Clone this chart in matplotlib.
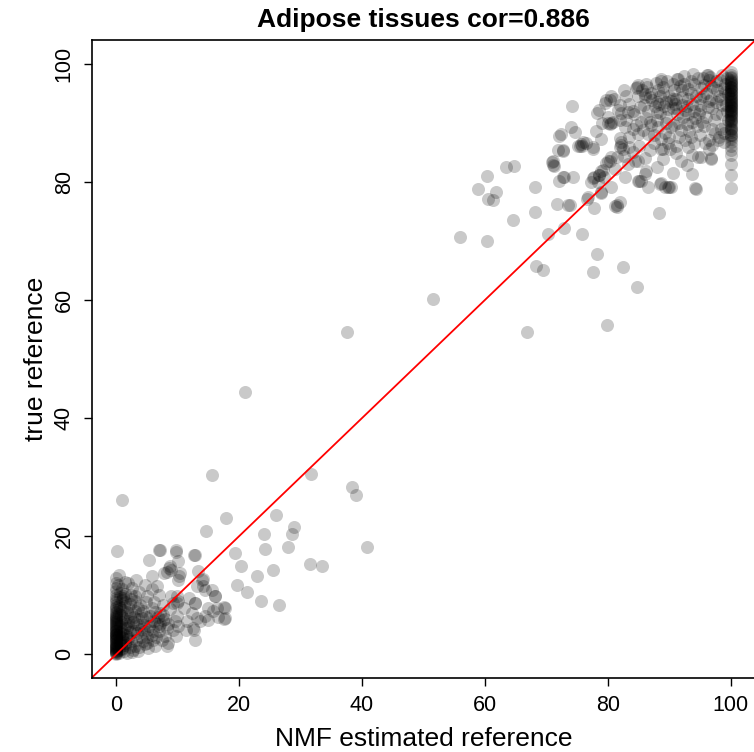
import numpy as np
import matplotlib
matplotlib.use("Agg")
import matplotlib.pyplot as plt

# scattered points away from the two dense clusters (NMF estimate, true value)
mid_points = [
    (0.9, 26.2), (0.2, 17.5), (15.6, 30.3), (21.0, 44.4), (31.7, 30.5), (37.6, 54.6),
    (38.4, 28.4), (39.0, 27.0), (40.8, 18.2), (31.5, 15.3), (33.5, 14.9), (26.0, 23.6),
    (28.9, 21.5), (28.6, 20.4), (24.1, 20.3), (24.3, 17.9), (27.9, 18.1), (17.8, 23.1),
    (14.6, 20.9), (19.3, 17.1), (20.3, 14.9), (22.9, 13.2), (25.6, 14.2), (19.7, 11.7),
    (21.3, 10.6), (23.6, 9.1), (26.5, 8.3), (17.6, 8.0), (17.6, 6.0), (51.5, 60.1),
    (66.9, 54.5), (79.8, 55.8), (84.7, 62.2), (82.5, 65.5), (77.6, 64.7), (78.2, 67.7),
    (68.3, 65.8), (69.5, 65.1), (56.0, 70.6), (60.4, 69.9), (64.6, 73.5), (68.1, 74.9),
    (70.2, 71.2), (72.8, 72.2), (75.7, 71.2), (58.8, 78.7), (60.4, 80.9), (61.8, 78.2),
    (60.5, 77.1), (61.3, 76.9), (63.4, 82.5), (64.8, 82.7), (68.2, 79.2), (71.0, 83.5),
    (71.1, 82.8), (72.7, 85.2), (71.7, 76.2), (73.9, 76.0), (88.3, 74.7),
]

low_points = [
    (6.9, 17.6), (9.7, 17.6), (12.7, 16.8), (5.3, 16.0), (8.6, 14.6), (10.1, 15.8),
    (5.8, 13.2), (7.8, 13.8), (10.2, 13.2), (13.3, 14.1), (14.2, 12.7), (16.1, 9.9),
    (8.8, 15.0), (1.2, 9.5), (2.6, 11.3), (4.7, 11.8), (6.6, 11.5), (5.8, 11.0),
    (6.9, 10.1), (3.1, 9.8), (3.9, 8.4), (9.3, 8.7), (9.9, 9.8), (12.8, 8.7),
    (13.1, 11.5), (14.5, 10.9), (15.0, 7.8), (16.4, 7.8), (13.1, 6.2), (11.5, 5.6),
    (12.6, 4.2), (12.8, 2.5), (14.5, 6.5), (9.9, 6.5), (9.3, 4.2), (7.9, 3.1),
    (8.2, 1.4), (6.3, 1.4), (4.7, 1.7), (2.8, 0.8), (6.6, 5.1), (7.2, 7.0),
    (7.2, 5.1), (9.9, 8.7), (12.8, 8.7), (17.7, 7.9), (17.7, 6.1), (16.6, 6.4),
    (15.8, 7.3), (15.0, 5.9), (13.6, 5.6), (12.3, 7.0), (12.5, 4.5), (11.4, 4.2),
    (10.1, 4.8), (9.8, 3.1), (8.5, 2.0), (7.4, 2.5), (10.1, 9.0), (9.0, 9.8),
    (8.2, 14.0), (9.0, 14.2), (10.4, 13.7), (10.1, 12.6), (7.1, 17.7), (9.8, 17.4),
    (12.8, 16.9), (13.9, 12.6), (14.2, 11.5), (15.6, 10.9), (16.1, 9.8), (1.0, 1.0),
    (1.5, 2.0), (2.0, 3.0), (1.0, 4.0), (2.0, 5.0), (3.0, 4.0), (1.5, 6.0),
    (2.5, 7.0), (3.5, 6.0), (4.0, 3.0), (3.0, 1.5), (5.0, 3.0), (4.5, 5.0),
    (5.5, 6.5), (2.0, 8.0), (1.0, 7.5), (3.0, 9.0), (4.0, 7.0), (6.0, 4.0),
    (5.0, 2.0), (1.2, 3.5), (0.8, 5.5), (2.2, 1.2), (3.3, 2.5), (4.2, 6.2),
    (6.5, 3.0), (7.0, 4.0), (5.8, 7.8), (4.8, 8.8), (2.8, 5.5), (1.8, 4.5),
    (0.6, 2.5), (1.4, 8.8), (3.6, 0.6), (5.2, 1.0), (6.8, 6.3), (8.0, 6.0),
    (8.5, 5.2), (7.7, 8.3), (5.0, 9.8), (1.0, 11.0), (2.0, 12.0), (3.2, 12.6),
    (0.5, 13.5), (1.5, 10.2), (0.7, 1.8), (0.9, 3.0), (1.3, 0.5), (0.5, 6.8),
    (0.5, 0.8), (0.8, 1.5), (1.2, 2.2), (0.6, 3.8), (1.6, 3.2), (2.4, 2.2),
    (2.6, 4.2), (3.4, 3.6), (1.9, 5.6), (2.9, 6.4), (3.8, 5.0), (4.6, 4.0),
    (5.4, 4.8), (6.2, 5.6), (0.7, 4.8), (1.1, 6.2), (1.7, 7.2), (2.3, 8.6),
    (3.6, 7.8), (4.4, 7.4), (5.6, 5.6), (6.0, 2.4), (4.4, 2.2), (3.8, 1.2),
    (2.6, 0.4), (1.8, 0.2), (0.9, 9.2), (0.6, 10.4), (1.4, 12.2), (2.4, 10.0),
    (3.8, 10.6), (6.2, 8.8), (7.6, 6.6), (8.8, 7.6), (9.6, 5.6), (11.0, 7.8),
    (11.8, 9.6), (0.4, 8.2), (1.2, 9.9), (0.3, 11.8), (0.4, 0.3), (0.9, 0.9),
    (1.4, 1.6), (0.6, 2.1), (1.1, 2.8), (1.9, 2.6), (0.5, 3.3), (1.3, 4.4),
    (2.3, 3.8), (0.8, 6.6), (1.6, 5.1), (2.2, 6.3), (0.6, 7.9), (1.3, 8.2),
    (3.2, 5.2), (4.1, 4.3), (5.1, 4.1), (5.9, 3.3), (6.9, 4.8), (7.6, 5.8),
    (3.1, 7.4), (2.5, 9.3), (0.7, 9.7), (4.9, 6.4), (6.4, 7.1), (8.3, 4.4),
]

high_points = [
    (74.2, 92.8), (78.3, 91.7), (78.5, 92.2), (79.5, 93.3), (80.5, 94.6), (80.4, 93.9),
    (82.6, 95.6), (84.8, 96.0), (86.2, 96.6), (88.7, 97.1), (91.2, 97.4), (96.1, 98.0),
    (74.0, 89.2), (74.6, 88.4), (72.4, 88.1), (71.9, 85.3), (72.7, 85.3), (75.1, 86.1),
    (75.9, 86.7), (77.6, 85.6), (78.1, 88.6), (78.9, 87.2), (80.5, 90.0), (80.3, 89.8),
    (81.9, 90.4), (82.2, 86.7), (83.5, 85.9), (72.9, 80.8), (74.3, 80.8), (77.5, 80.7),
    (78.6, 81.1), (79.2, 82.0), (80.0, 83.6), (80.5, 84.2), (82.7, 80.8), (83.2, 83.0),
    (84.9, 83.6), (86.0, 81.4), (86.5, 79.1), (88.4, 79.7), (89.8, 79.1), (90.3, 79.1),
    (94.4, 78.8), (93.6, 81.4), (92.8, 82.9), (94.7, 84.2), (96.8, 84.1), (81.4, 76.0),
    (78.9, 78.3), (76.7, 77.4), (73.5, 76.0), (76.6, 77.0), (77.8, 75.6), (78.9, 78.1),
    (80.5, 79.2), (81.1, 75.9), (81.5, 75.7), (81.9, 76.6), (77.3, 80.0), (77.8, 80.8),
    (78.6, 81.2), (79.4, 80.8), (78.4, 80.0), (78.9, 81.9), (79.7, 83.2), (80.3, 83.6),
    (75.7, 86.1), (77.6, 85.9), (82.2, 86.3), (81.9, 85.9), (84.9, 80.2), (84.4, 83.6),
    (82.6, 84.3), (81.4, 84.2), (94.2, 78.9), (89.2, 79.1), (90.0, 79.1), (88.7, 79.8),
    (85.1, 80.2), (72.1, 87.8), (75.6, 86.4), (75.4, 86.0), (76.5, 86.5), (80.0, 89.9),
    (80.8, 90.2), (81.9, 87.4), (82.4, 85.6), (82.7, 89.2), (84.1, 88.9), (84.9, 88.1),
    (84.3, 91.5), (82.2, 91.7), (81.6, 92.2), (85.7, 88.7), (79.7, 93.8), (84.6, 95.9),
    (86.1, 94.9), (84.9, 94.6), (70.9, 83.4), (71.2, 82.6), (72.1, 80.2), (72.7, 80.8),
    (81.1, 82.2), (85.4, 80.2), (86.2, 81.9), (96.3, 98.0), (91.4, 97.4), (88.7, 97.4),
    (84.9, 96.3), (86.0, 94.3), (87.6, 92.9), (85.4, 90.1), (86.5, 88.1), (88.7, 85.6),
    (89.0, 83.9), (91.9, 83.6), (93.6, 84.5), (95.2, 84.2), (96.8, 83.9), (97.9, 87.0),
    (96.5, 87.0), (93.0, 85.9), (91.9, 88.7), (90.2, 89.2), (88.1, 89.2), (87.0, 95.0),
    (88.0, 93.5), (89.0, 96.0), (90.0, 94.5), (91.0, 92.5), (92.0, 95.5), (93.0, 94.0),
    (94.0, 96.5), (95.0, 93.0), (96.0, 95.0), (97.0, 92.5), (98.0, 94.5), (99.0, 96.5),
    (97.5, 97.0), (95.5, 97.5), (93.5, 97.0), (89.5, 91.0), (91.5, 90.0), (93.0, 91.5),
    (94.5, 89.5), (96.0, 91.0), (97.0, 89.0), (98.5, 91.5), (88.0, 90.5), (90.0, 87.5),
    (92.5, 87.0), (95.0, 88.0), (98.0, 87.5), (99.0, 89.5), (99.2, 93.0), (98.8, 95.8),
    (90.5, 96.5), (86.5, 92.0), (87.5, 88.0), (89.0, 85.5), (94.0, 86.5), (96.5, 85.5),
    (92.0, 93.0), (94.0, 92.0), (95.5, 94.5), (97.5, 93.5), (91.0, 94.0), (93.5, 95.0),
    (90.5, 92.5), (88.5, 94.5), (96.8, 96.2), (98.2, 97.2), (92.8, 89.8), (89.3, 88.3),
    (85.8, 93.0), (83.5, 93.2), (84.0, 92.0), (86.8, 90.2), (83.0, 90.5), (81.0, 94.0),
    (83.0, 94.5), (85.5, 95.5), (82.0, 93.0), (80.0, 91.0), (79.0, 90.0), (83.5, 87.5),
    (85.0, 86.0), (84.0, 85.0), (86.0, 84.0), (87.5, 86.5), (88.0, 82.5), (90.5, 81.5),
    (91.0, 86.0), (89.5, 93.5), (86.4, 96.0), (87.8, 96.8), (89.6, 97.0), (90.8, 95.6),
    (92.4, 96.6), (94.6, 97.6), (96.4, 97.2), (98.6, 98.0), (99.4, 97.6), (99.5, 94.8),
    (99.3, 92.0), (99.5, 90.4), (98.4, 89.0), (97.2, 90.4), (95.6, 89.4), (94.2, 90.8),
    (92.6, 92.2), (91.2, 91.4), (89.8, 92.4), (88.4, 91.6), (87.2, 93.8), (88.2, 95.6),
    (90.2, 93.6), (92.0, 94.4), (93.6, 93.2), (95.2, 95.8), (96.8, 94.0), (97.8, 95.6),
    (98.6, 93.0), (96.2, 92.6), (94.8, 91.4), (93.2, 88.6), (91.6, 87.6), (89.8, 86.6),
    (88.6, 87.2), (87.0, 89.6), (95.8, 86.6), (97.4, 88.2), (98.8, 86.8), (91.0, 84.8),
    (86.8, 85.4), (84.6, 89.6), (83.2, 91.8), (85.2, 92.6), (86.2, 90.8), (88.9, 95.1),
    (90.6, 94.0), (91.8, 96.2), (93.1, 95.7), (94.4, 94.6), (95.7, 96.4), (97.1, 96.0),
    (98.4, 94.0), (99.1, 95.2), (97.6, 91.4), (96.4, 93.6), (95.0, 92.2), (93.7, 90.2),
    (92.2, 91.0), (90.8, 89.6), (89.4, 90.0), (87.9, 91.8), (86.9, 94.4), (89.1, 92.8),
    (90.9, 93.1), (92.9, 92.9), (94.9, 94.2), (96.6, 97.8), (93.9, 98.2), (92.3, 97.9),
    (98.9, 88.2), (97.0, 86.3), (95.3, 90.2), (93.5, 87.6), (90.1, 85.6), (88.3, 93.2),
]

# points sitting on the x = 0 and x = 100 edges
col0_y = [
    0.0, 0.2, 0.3, 0.5, 0.6, 0.8, 0.9, 1.1, 1.2, 1.4, 1.5, 1.7, 1.9, 2.0, 2.2, 2.4,
    2.5, 2.7, 2.9, 3.0, 3.2, 3.4, 3.5, 3.7, 3.9, 4.1, 4.3, 4.4, 4.6, 4.8, 5.0, 5.2,
    5.4, 5.6, 5.8, 6.0, 6.2, 6.5, 6.7, 7.0, 7.2, 7.5, 7.8, 8.1, 8.4, 8.8, 9.2, 9.6,
    10.1, 10.7, 11.3, 12.1, 12.9, 0.4, 1.0, 1.6, 2.6, 3.3, 4.0, 5.3, 6.4,
]
col100_y = [
    79.0, 81.1, 83.0, 84.6, 85.4, 86.1, 86.7, 87.2, 87.6, 88.0, 88.4, 88.8, 89.1, 89.5,
    89.8, 90.1, 90.4, 90.7, 91.0, 91.3, 91.6, 91.9, 92.1, 92.4, 92.7, 92.9, 93.2, 93.4,
    93.7, 93.9, 94.2, 94.4, 94.6, 94.9, 95.1, 95.3, 95.6, 95.8, 96.0, 96.3, 96.5, 96.7,
    97.0, 97.2, 97.5, 97.8, 98.1, 98.5, 90.3, 91.5, 92.6, 93.5, 94.0, 94.8, 95.5, 96.1,
    96.9, 93.0, 92.0, 91.2, 89.0, 88.0,
]

title = "Adipose tissues cor=0.886"
x_label = "NMF estimated reference"
y_label = "true reference"
ticks = [0, 20, 40, 60, 80, 100]

plt.rcParams["font.family"] = ["Liberation Sans", "DejaVu Sans"]

scatter = np.array(mid_points + low_points + high_points)
x = np.concatenate([scatter[:, 0], np.zeros(len(col0_y)), np.full(len(col100_y), 100.0)])
y = np.concatenate([scatter[:, 1], col0_y, col100_y])

fig = plt.figure(figsize=(7.54, 7.52), dpi=100)
ax = fig.add_axes([91.5 / 754, 74 / 752, 664 / 754, 638 / 752])

ax.scatter(x, y, s=88, c="black", alpha=0.21, linewidths=0)
ax.axline((0, 0), (100, 100), color="red", lw=1.3)

ax.set_xlim(-4, 104)
ax.set_ylim(-4, 104)
ax.set_xticks(ticks)
ax.set_yticks(ticks)
ax.set_yticklabels([str(t) for t in ticks], rotation=90, va="center")
ax.tick_params(direction="out", length=6, width=1.0, labelsize=15.5, pad=6)
for spine in ax.spines.values():
    spine.set_linewidth(1.2)

ax.set_xlabel(x_label, fontsize=19, labelpad=8)
ax.set_ylabel(y_label, fontsize=19, labelpad=4)
ax.set_title(title, fontsize=19, fontweight="bold", pad=9)

fig.savefig("out.png", dpi=100)
